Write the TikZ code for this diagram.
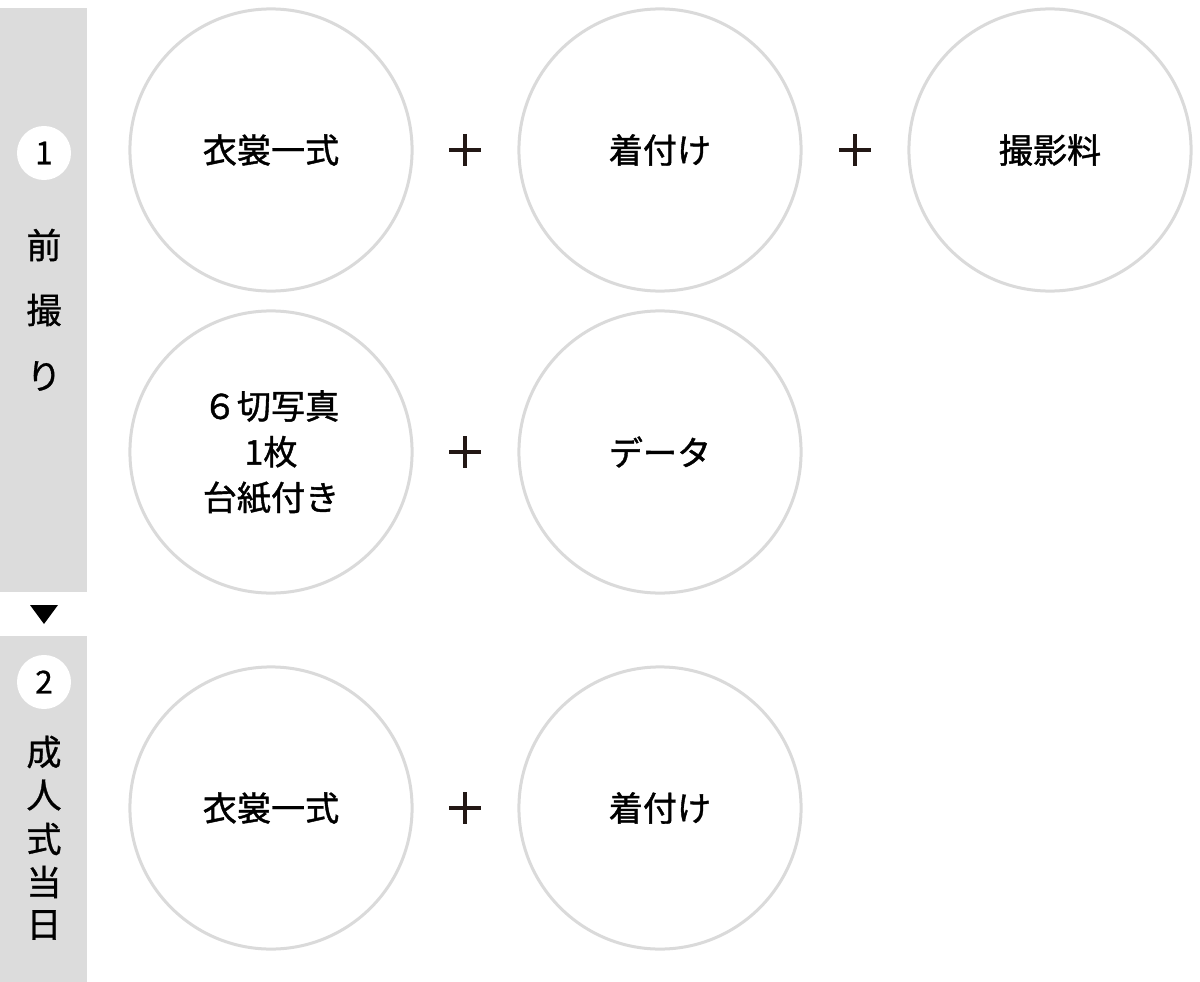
\documentclass[tikz,border=0pt]{standalone}
\usepackage{fontspec}
\setmainfont{Noto Sans CJK JP}
\newfontfamily\jpfont[FakeBold=1.2]{Noto Sans CJK JP}
\newfontfamily\sidefont[FakeBold=0.8]{Noto Sans CJK JP}
\definecolor{bargray}{HTML}{DCDCDC}
\definecolor{ringgray}{HTML}{DADADA}
\definecolor{inkdark}{HTML}{231815}
\tikzset{
  item/.style={circle, draw=ringgray, line width=0.03cm, fill=white,
    minimum size=2.82cm, inner sep=0pt, align=center,
    font=\jpfont\fontsize{9.7}{13}\selectfont, text=black},
  stepnum/.style={circle, fill=white, minimum size=0.54cm, inner sep=0pt,
    font=\sidefont\fontsize{9}{10}\selectfont},
  steplabel/.style={font=\sidefont\fontsize{10}{10}\selectfont, inner sep=0pt},
  plusline/.style={draw=inkdark, line width=0.036cm}
}
\begin{document}
\begin{tikzpicture}[x=0.01cm, y=-0.01cm]
  \useasboundingbox (0,0) rectangle (1200,982);

  % Bande grigie a sinistra
  \fill[bargray] (0,8) rectangle (87,592);
  \fill[bargray] (0,636) rectangle (87,982);

  % Freccia tra le due fasi
  \fill[black] (30,605) -- (58,605) -- (44,624) -- cycle;

  % Fase 1: numero e titolo verticale
  \node[stepnum] (num1) at (44,153) {1};
  \node[steplabel] (mae) at (44,245) {前};
  \node[steplabel] (tori) at (44,310) {撮};
  \node[steplabel] (ri) at (44,376) {り};

  % Fase 2: numero e titolo verticale
  \node[stepnum] (num2) at (44,682) {2};
  \node[steplabel] (sei) at (44,752) {成};
  \node[steplabel] (jin) at (44,795) {人};
  \node[steplabel] (shiki) at (44,839) {式};
  \node[steplabel] (tou) at (44,882) {当};
  \node[steplabel] (hi) at (44,925) {日};

  % Cerchi della fase 1
  \node[item] (isho1) at (271,150) {衣裳一式};
  \node[item] (kitsuke1) at (660,150) {着付け};
  \node[item] (satsuei) at (1050,150) {撮影料};
  \node[item] (print) at (271,452) {６切写真\\1枚\\台紙付き};
  \node[item] (data) at (660,452) {データ};

  % Cerchi della fase 2
  \node[item] (isho2) at (271,808) {衣裳一式};
  \node[item] (kitsuke2) at (660,808) {着付け};

  % Segni piu tra i cerchi
  \foreach \x/\y in {465/150, 855/150, 465/452, 465/808}
    \draw[plusline] (\x-16,\y) -- ++(32,0) (\x,\y-16) -- ++(0,32);
\end{tikzpicture}
\end{document}
